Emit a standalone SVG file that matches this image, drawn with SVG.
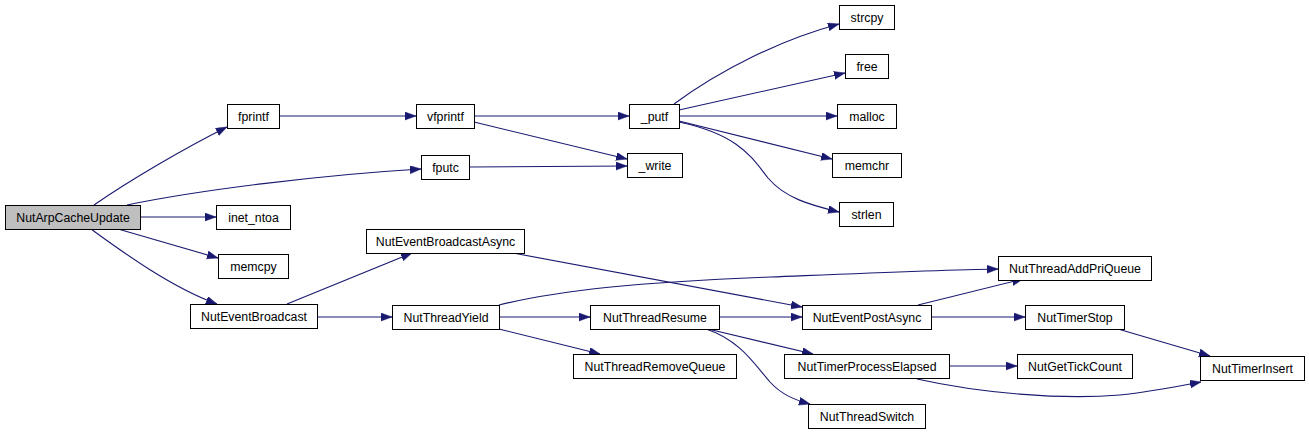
<svg xmlns="http://www.w3.org/2000/svg" width="1309" height="433" viewBox="0 0 1309 433">
<style>
.box{fill:#ffffff;stroke:#000000;stroke-width:1}
.root{fill:#bfbfbf;stroke:#000000;stroke-width:1}
.lbl{font-family:"Liberation Sans",Arial,sans-serif;font-size:12.3px;fill:#000000;text-anchor:middle}
.e{fill:none;stroke:#191970;stroke-width:1.1}
</style>
<defs>
<marker id="ah" markerUnits="userSpaceOnUse" markerWidth="12" markerHeight="9" refX="11" refY="4" orient="auto">
<path d="M0,0 L11,4 L0,8 z" fill="#191970" stroke="#191970" stroke-width="0.5"/>
</marker>
</defs>
<rect width="1309" height="433" fill="#ffffff"/>
<g id="edges">
<path class="e" marker-end="url(#ah)" d="M94,205 C130,180 185,148 227,127"/>
<path class="e" marker-end="url(#ah)" d="M127,205 C200,190 320,175 421,169"/>
<path class="e" marker-end="url(#ah)" d="M140,217 L216,217"/>
<path class="e" marker-end="url(#ah)" d="M118,229 L218,258"/>
<path class="e" marker-end="url(#ah)" d="M91,229 C120,250 170,287 217,304"/>
<path class="e" marker-end="url(#ah)" d="M279,116 L416,116"/>
<path class="e" marker-end="url(#ah)" d="M474,116 L629,116"/>
<path class="e" marker-end="url(#ah)" d="M474,122 L627,159"/>
<path class="e" marker-end="url(#ah)" d="M469,167 L627,166"/>
<path class="e" marker-end="url(#ah)" d="M674,104 C720,70 780,40 839,24"/>
<path class="e" marker-end="url(#ah)" d="M679,110 L845,73"/>
<path class="e" marker-end="url(#ah)" d="M679,116 L837,116"/>
<path class="e" marker-end="url(#ah)" d="M679,121 L832,159"/>
<path class="e" marker-end="url(#ah)" d="M679,122 C740,135 752,158 768,178 C785,198 810,205 839,212"/>
<path class="e" marker-end="url(#ah)" d="M287,304 L412,253"/>
<path class="e" marker-end="url(#ah)" d="M317,317 L392,317"/>
<path class="e" marker-end="url(#ah)" d="M513,253 L802,307"/>
<path class="e" marker-end="url(#ah)" d="M499,305 C560,290 640,282 770,277 C870,273 940,270 998,269"/>
<path class="e" marker-end="url(#ah)" d="M499,317 L590,317"/>
<path class="e" marker-end="url(#ah)" d="M499,329 L600,354"/>
<path class="e" marker-end="url(#ah)" d="M719,317 L802,317"/>
<path class="e" marker-end="url(#ah)" d="M708,329 L813,354"/>
<path class="e" marker-end="url(#ah)" d="M706,329 C740,340 755,365 770,382 C782,395 795,400 810,404"/>
<path class="e" marker-end="url(#ah)" d="M918,305 L1023,279"/>
<path class="e" marker-end="url(#ah)" d="M931,317 L1025,317"/>
<path class="e" marker-end="url(#ah)" d="M1118,329 L1210,356"/>
<path class="e" marker-end="url(#ah)" d="M949,366 L1017,366"/>
<path class="e" marker-end="url(#ah)" d="M917,379 C980,393 1060,400 1120,395 C1150,392 1180,386 1201,382"/>
</g>
<g id="n_NutArpCacheUpdate"><rect class="root" x="5.5" y="205.5" width="135" height="24"/><text class="lbl" x="73" y="221.5">NutArpCacheUpdate</text></g>
<g id="n_fprintf"><rect class="box" x="227.5" y="104.5" width="52" height="24"/><text class="lbl" x="253.5" y="120.5">fprintf</text></g>
<g id="n_inet_ntoa"><rect class="box" x="216.5" y="205.5" width="74" height="24"/><text class="lbl" x="253.5" y="221.5">inet_ntoa</text></g>
<g id="n_memcpy"><rect class="box" x="218.5" y="254.5" width="70" height="24"/><text class="lbl" x="253.5" y="270.5">memcpy</text></g>
<g id="n_NutEventBroadcast"><rect class="box" x="190.5" y="304.5" width="127" height="24"/><text class="lbl" x="254" y="320.5">NutEventBroadcast</text></g>
<g id="n_vfprintf"><rect class="box" x="416.5" y="104.5" width="58" height="24"/><text class="lbl" x="445.5" y="120.5">vfprintf</text></g>
<g id="n_fputc"><rect class="box" x="421.5" y="155.5" width="48" height="24"/><text class="lbl" x="445.5" y="171.5">fputc</text></g>
<g id="n__putf"><rect class="box" x="629.5" y="104.5" width="50" height="24"/><text class="lbl" x="654.5" y="120.5">_putf</text></g>
<g id="n__write"><rect class="box" x="627.5" y="153.5" width="55" height="24"/><text class="lbl" x="655" y="169.5">_write</text></g>
<g id="n_strcpy"><rect class="box" x="839.5" y="5.5" width="55" height="24"/><text class="lbl" x="867" y="21.5">strcpy</text></g>
<g id="n_free"><rect class="box" x="845.5" y="54.5" width="43" height="24"/><text class="lbl" x="867" y="70.5">free</text></g>
<g id="n_malloc"><rect class="box" x="837.5" y="104.5" width="59" height="24"/><text class="lbl" x="867" y="120.5">malloc</text></g>
<g id="n_memchr"><rect class="box" x="832.5" y="153.5" width="69" height="24"/><text class="lbl" x="867" y="169.5">memchr</text></g>
<g id="n_strlen"><rect class="box" x="839.5" y="202.5" width="54" height="24"/><text class="lbl" x="866.5" y="218.5">strlen</text></g>
<g id="n_NutEventBroadcastAsync"><rect class="box" x="366.5" y="229.5" width="158" height="24"/><text class="lbl" x="445.5" y="245.5">NutEventBroadcastAsync</text></g>
<g id="n_NutThreadYield"><rect class="box" x="392.5" y="305.5" width="107" height="24"/><text class="lbl" x="446" y="321.5">NutThreadYield</text></g>
<g id="n_NutThreadResume"><rect class="box" x="590.5" y="305.5" width="129" height="24"/><text class="lbl" x="655" y="321.5">NutThreadResume</text></g>
<g id="n_NutThreadRemoveQueue"><rect class="box" x="573.5" y="354.5" width="163" height="24"/><text class="lbl" x="655" y="370.5">NutThreadRemoveQueue</text></g>
<g id="n_NutThreadAddPriQueue"><rect class="box" x="998.5" y="256.5" width="153" height="24"/><text class="lbl" x="1075" y="272.5">NutThreadAddPriQueue</text></g>
<g id="n_NutEventPostAsync"><rect class="box" x="802.5" y="305.5" width="129" height="24"/><text class="lbl" x="867" y="321.5">NutEventPostAsync</text></g>
<g id="n_NutTimerStop"><rect class="box" x="1025.5" y="305.5" width="99" height="24"/><text class="lbl" x="1075" y="321.5">NutTimerStop</text></g>
<g id="n_NutTimerProcessElapsed"><rect class="box" x="784.5" y="354.5" width="165" height="24"/><text class="lbl" x="867" y="370.5">NutTimerProcessElapsed</text></g>
<g id="n_NutGetTickCount"><rect class="box" x="1017.5" y="354.5" width="115" height="24"/><text class="lbl" x="1075" y="370.5">NutGetTickCount</text></g>
<g id="n_NutThreadSwitch"><rect class="box" x="808.5" y="404.5" width="117" height="24"/><text class="lbl" x="867" y="420.5">NutThreadSwitch</text></g>
<g id="n_NutTimerInsert"><rect class="box" x="1200.5" y="356.5" width="104" height="24"/><text class="lbl" x="1252.5" y="372.5">NutTimerInsert</text></g>
</svg>
